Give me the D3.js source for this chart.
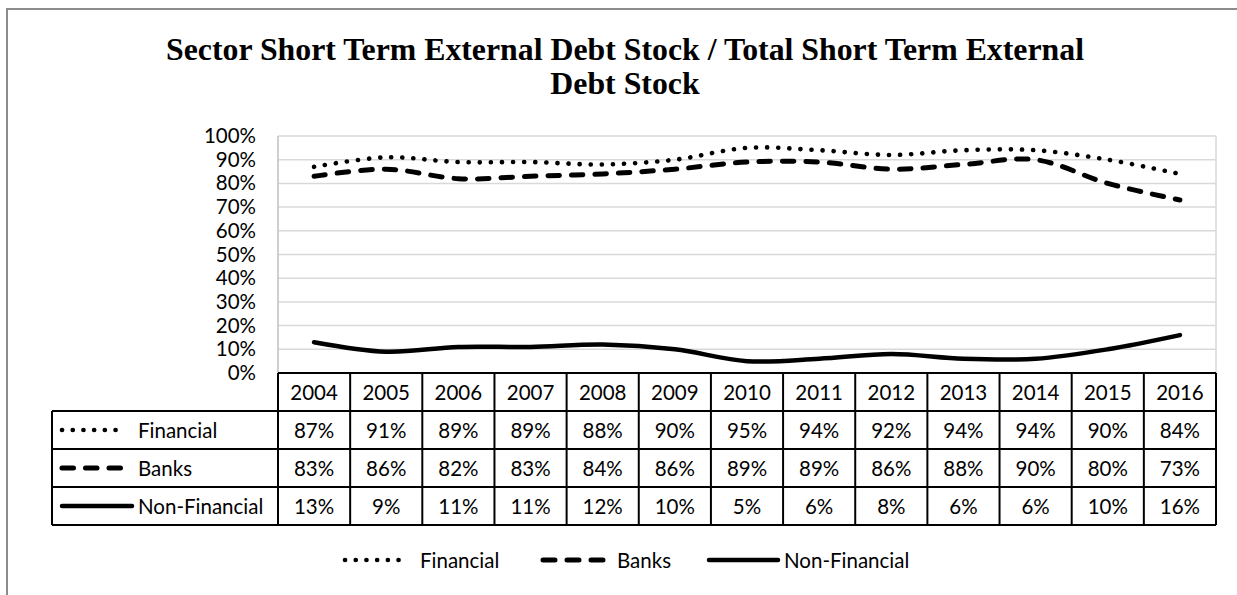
<!DOCTYPE html>
<html>
<head>
<meta charset="utf-8">
<script src="https://cdn.jsdelivr.net/npm/d3@7"></script>
<style>
  body { margin: 0; background: #fff; }
  svg { display: block; }
</style>
</head>
<body>
<svg id="chart" width="1237" height="595"></svg>
<script>
// Chart data
const years = ['2004', '2005', '2006', '2007', '2008', '2009', '2010',
  '2011', '2012', '2013', '2014', '2015', '2016'];
const financial = [87, 91, 89, 89, 88, 90, 95, 94, 92, 94, 94, 90, 84];
const banks = [83, 86, 82, 83, 84, 86, 89, 89, 86, 88, 90, 80, 73];
const nonFinancial = [13, 9, 11, 11, 12, 10, 5, 6, 8, 6, 6, 10, 16];
const yTicks = [0, 10, 20, 30, 40, 50, 60, 70, 80, 90, 100];
const seriesNames = ['Financial', 'Banks', 'Non-Financial'];

const series = [
  {name: seriesNames[0], values: financial, dash: '0.1 11', width: 4.6},
  {name: seriesNames[1], values: banks, dash: '11.5 12', width: 5},
  {name: seriesNames[2], values: nonFinancial, dash: null, width: 4.5}
];

const svg = d3.select('#chart');
const labelFont = 'Lato, "Open Sans", sans-serif';
const labelSize = 20.5;

// Outer chart border
svg.append('rect')
  .attr('x', 7).attr('y', 9)
  .attr('width', 1250).attr('height', 600)
  .attr('fill', 'none')
  .attr('stroke', '#8c8c8c')
  .attr('stroke-width', 2);

// Title, two lines
const title = svg.append('text')
  .attr('text-anchor', 'middle')
  .attr('font-family', '"Liberation Serif", "Times New Roman", serif')
  .attr('font-weight', 'bold')
  .attr('font-size', 31.8)
  .attr('fill', '#000');
title.append('tspan').attr('x', 625).attr('y', 60)
  .text('Sector Short Term External Debt Stock / Total Short Term External');
title.append('tspan').attr('x', 625).attr('y', 94).text('Debt Stock');

// Plot area
const plotLeft = 278, plotRight = 1216, plotTop = 136, plotBottom = 373;

const x = d3.scaleBand().domain(years).range([plotLeft, plotRight]);
const y = d3.scaleLinear().domain([0, 100]).range([plotBottom, plotTop]);

// Gridlines
svg.append('g')
  .selectAll('line')
  .data(yTicks.filter(d => d > 0))
  .join('line')
  .attr('x1', plotLeft).attr('x2', plotRight)
  .attr('y1', d => y(d)).attr('y2', d => y(d))
  .attr('stroke', '#d9d9d9')
  .attr('stroke-width', 1.5);

// Plot frame sides
svg.append('line')
  .attr('x1', plotLeft).attr('x2', plotLeft).attr('y1', plotTop).attr('y2', plotBottom)
  .attr('stroke', '#bfbfbf').attr('stroke-width', 1.5);
svg.append('line')
  .attr('x1', plotRight).attr('x2', plotRight).attr('y1', plotTop).attr('y2', plotBottom)
  .attr('stroke', '#d9d9d9').attr('stroke-width', 1.5);

// Y axis labels
const yAxis = d3.axisLeft(y)
  .tickValues(yTicks)
  .tickFormat(d => d + '%')
  .tickSize(0)
  .tickPadding(0);
const yAxisG = svg.append('g')
  .attr('transform', 'translate(' + (plotLeft - 22) + ',0)')
  .call(yAxis);
yAxisG.select('.domain').remove();
yAxisG.selectAll('text')
  .attr('font-family', labelFont)
  .attr('font-size', labelSize)
  .attr('fill', '#000');

// Series lines
const line = d3.line()
  .x((d, i) => x(years[i]) + x.bandwidth() / 2)
  .y(d => y(d))
  .curve(d3.curveCatmullRom.alpha(0.5));

svg.append('g')
  .selectAll('path')
  .data(series)
  .join('path')
  .attr('d', d => line(d.values))
  .attr('fill', 'none')
  .attr('stroke', '#000')
  .attr('stroke-width', d => d.width)
  .attr('stroke-linecap', 'round')
  .attr('stroke-linejoin', 'round')
  .attr('stroke-dasharray', d => d.dash);

// Data table below the plot
const tableLeft = 52;
const rowTops = [373, 411, 449, 487, 525];
const table = svg.append('g');

// Header cells (years)
years.forEach(yr => {
  table.append('text')
    .attr('x', x(yr) + x.bandwidth() / 2)
    .attr('y', (rowTops[0] + rowTops[1]) / 2 + 7.5)
    .attr('text-anchor', 'middle')
    .attr('font-family', labelFont)
    .attr('font-size', labelSize)
    .text(yr);
});

// Value cells and row labels with legend keys
series.forEach((s, r) => {
  const cy = (rowTops[r + 1] + rowTops[r + 2]) / 2;
  s.values.forEach((v, i) => {
    table.append('text')
      .attr('x', x(years[i]) + x.bandwidth() / 2)
      .attr('y', cy + 7.5)
      .attr('text-anchor', 'middle')
      .attr('font-family', labelFont)
      .attr('font-size', labelSize)
      .text(v + '%');
  });
  const keyEnd = r === 2 ? 132 : 125;
  table.append('line')
    .attr('x1', 62).attr('x2', keyEnd)
    .attr('y1', cy).attr('y2', cy)
    .attr('stroke', '#000')
    .attr('stroke-width', s.width)
    .attr('stroke-linecap', 'round')
    .attr('stroke-dasharray', r === 0 ? '0.1 10.6' : s.dash);
  table.append('text')
    .attr('x', 138)
    .attr('y', cy + 7.5)
    .attr('font-family', labelFont)
    .attr('font-size', labelSize)
    .text(s.name);
});

// Table grid
const gridStroke = {stroke: '#000', width: 2};
// Header row top line (only over data columns)
table.append('line')
  .attr('x1', plotLeft).attr('x2', plotRight)
  .attr('y1', rowTops[0]).attr('y2', rowTops[0])
  .attr('stroke', gridStroke.stroke).attr('stroke-width', gridStroke.width);
rowTops.slice(1).forEach(ty => {
  table.append('line')
    .attr('x1', tableLeft).attr('x2', plotRight)
    .attr('y1', ty).attr('y2', ty)
    .attr('stroke', gridStroke.stroke).attr('stroke-width', gridStroke.width);
});
// Vertical lines
table.append('line')
  .attr('x1', tableLeft).attr('x2', tableLeft)
  .attr('y1', rowTops[1]).attr('y2', rowTops[4])
  .attr('stroke', gridStroke.stroke).attr('stroke-width', gridStroke.width);
years.forEach(yr => {
  table.append('line')
    .attr('x1', x(yr)).attr('x2', x(yr))
    .attr('y1', rowTops[0]).attr('y2', rowTops[4])
    .attr('stroke', gridStroke.stroke).attr('stroke-width', gridStroke.width);
});
table.append('line')
  .attr('x1', plotRight).attr('x2', plotRight)
  .attr('y1', rowTops[0]).attr('y2', rowTops[4])
  .attr('stroke', gridStroke.stroke).attr('stroke-width', gridStroke.width);

// Bottom legend
const legendY = 560;
const legendItems = [
  {s: series[0], x1: 345, x2: 407, tx: 420, dash: '0.1 10.6'},
  {s: series[1], x1: 543, x2: 603, tx: 617, dash: '12 12'},
  {s: series[2], x1: 709, x2: 778, tx: 784, dash: null}
];
const legend = svg.append('g');
legendItems.forEach(it => {
  legend.append('line')
    .attr('x1', it.x1).attr('x2', it.x2)
    .attr('y1', legendY).attr('y2', legendY)
    .attr('stroke', '#000')
    .attr('stroke-width', it.s.width)
    .attr('stroke-linecap', 'round')
    .attr('stroke-dasharray', it.dash);
  legend.append('text')
    .attr('x', it.tx)
    .attr('y', legendY + 7.5)
    .attr('font-family', labelFont)
    .attr('font-size', labelSize)
    .text(it.s.name);
});
</script>
</body>
</html>
